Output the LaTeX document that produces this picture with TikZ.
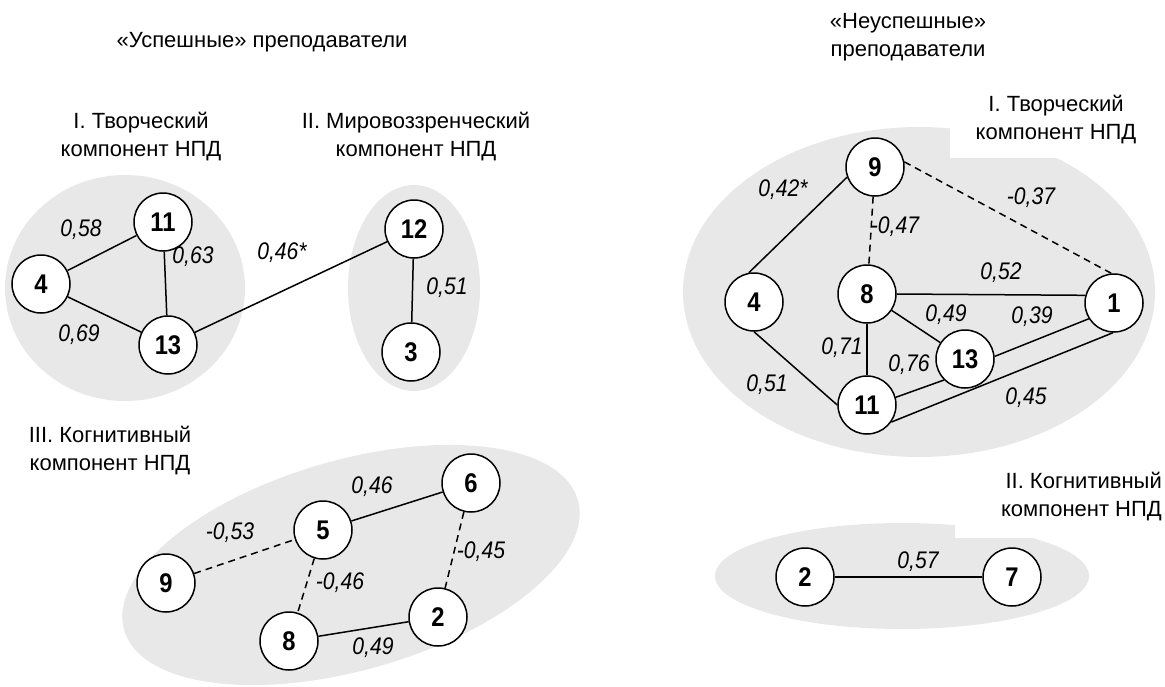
\documentclass[tikz,border=0pt]{standalone}
\usepackage{fontspec}
\setmainfont{Liberation Sans}
\newfontfamily\narrowfont[FakeStretch=0.88]{Liberation Sans}
\begin{document}
\begin{tikzpicture}[x=1pt,y=-1pt,
  vtx/.style={circle,draw,line width=1.5pt,fill=white,minimum size=58pt,inner sep=0pt,
    font=\narrowfont\fontsize{27}{27}\selectfont\bfseries},
  wt/.style={font=\narrowfont\fontsize{24}{24}\selectfont\itshape,inner sep=1pt},
  hdr/.style={align=center,font=\fontsize{22}{28}\selectfont,inner sep=0pt},
  link/.style={line width=1.5pt},
  neg/.style={line width=1.5pt,dash pattern=on 7pt off 5pt},
  zone/.style={fill=black!9}]
\useasboundingbox (0,0) rectangle (1165,686);

% shaded groups
\fill[zone] (125,288) ellipse [x radius=120,y radius=113];
\fill[zone] (414,288) ellipse [x radius=66,y radius=103];
\fill[zone,rotate around={16:(351,565)}] (351,565) ellipse [x radius=236,y radius=105];
\fill[zone] (919,292) ellipse [x radius=236,y radius=165];
\fill[zone] (902,576) ellipse [x radius=187,y radius=53];

% white boxes behind the group titles
\fill[white] (0,420) rectangle (214,506);
\fill[white] (950,80) rectangle (1165,158);
\fill[white] (955,460) rectangle (1165,538);

% titles
\node[hdr] (t1) at (262,42) {«Успешные» преподаватели};
\node[hdr] (t2) at (908,37) {«Неуспешные»\\преподаватели};
\node[hdr] (g1) at (141,137) {I. Творческий\\компонент НПД};
\node[hdr] (g2) at (416,137) {II. Мировоззренческий\\компонент НПД};
\node[hdr] (g3) at (110,451) {III. Когнитивный\\компонент НПД};
\node[hdr] (g4) at (1056,120) {I. Творческий\\компонент НПД};
\node[hdr,align=right,anchor=east] (g5) at (1162,497) {II. Когнитивный\\компонент НПД};

% left: creative and worldview components
\node[vtx] (a11) at (163,222) {11};
\node[vtx] (a4)  at (41,284)  {4};
\node[vtx] (a13) at (168,345) {13};
\node[vtx] (a12) at (414,229) {12};
\node[vtx] (a3)  at (411,352) {3};
\draw[link] (a4) -- (a11);
\draw[link] (a4) -- (a13);
\draw[link] (a11) -- (a13);
\draw[link] (a13) -- (a12);
\draw[link] (a12) -- (a3);
\node[wt] (l1) at (81,230) {0,58};
\node[wt] (l2) at (193,257) {0,63};
\node[wt] (l3) at (79,335) {0,69};
\node[wt] (l4) at (282,253) {0,46*};
\node[wt] (l5) at (447,288) {0,51};

% left: cognitive component
\node[vtx] (b6) at (471,483) {6};
\node[vtx] (b5) at (323,530) {5};
\node[vtx] (b9) at (166,583) {9};
\node[vtx] (b2) at (438,617) {2};
\node[vtx] (b8) at (289,641) {8};
\draw[link] (b5) -- (b6);
\draw[neg] (b9) -- (b5);
\draw[neg] (b6) -- (b2);
\draw[neg] (b5) -- (b8);
\draw[link] (b8) -- (b2);
\node[wt] (m1) at (372,487) {0,46};
\node[wt] (m2) at (230,533) {-0,53};
\node[wt] (m3) at (481,552) {-0,45};
\node[wt] (m4) at (340,583) {-0,46};
\node[wt] (m5) at (373,648) {0,49};

% right: creative component
\node[vtx] (c9)  at (875,167) {9};
\node[vtx] (c4)  at (754,302) {4};
\node[vtx] (c8)  at (867,294) {8};
\node[vtx] (c1)  at (1114,303) {1};
\node[vtx] (c13) at (965,359) {13};
\node[vtx] (c11) at (867,405) {11};
\draw[link] (c9.200) -- (c4.100);
\draw[neg] (c9) -- (c8);
\draw[neg] (c9.10) -- (c1.95);
\draw[link] (c8.east) -- (c1.165);
\draw[link] (c8) -- (c13);
\draw[link] (c8) -- (c11);
\draw[link] (c13.5) -- (c1.212);
\draw[link] (c11.15) -- (c13.225);
\draw[link] (c11.-35) -- (c1.-92);
\draw[link] (c4.-90) -- (c11.180);
\node[wt] (n1) at (783,190) {0,42*};
\node[wt] (n2) at (1031,198) {-0,37};
\node[wt] (n3) at (895,227) {-0,47};
\node[wt] (n4) at (1001,273) {0,52};
\node[wt] (n5) at (946,315) {0,49};
\node[wt] (n6) at (1032,317) {0,39};
\node[wt] (n7) at (842,348) {0,71};
\node[wt] (n8) at (909,365) {0,76};
\node[wt] (n9) at (767,385) {0,51};
\node[wt] (n10) at (1026,398) {0,45};

% right: cognitive component
\node[vtx] (d2) at (805,577) {2};
\node[vtx] (d7) at (1012,577) {7};
\draw[link] (d2) -- (d7);
\node[wt] (o1) at (918,562) {0,57};
\end{tikzpicture}
\end{document}
